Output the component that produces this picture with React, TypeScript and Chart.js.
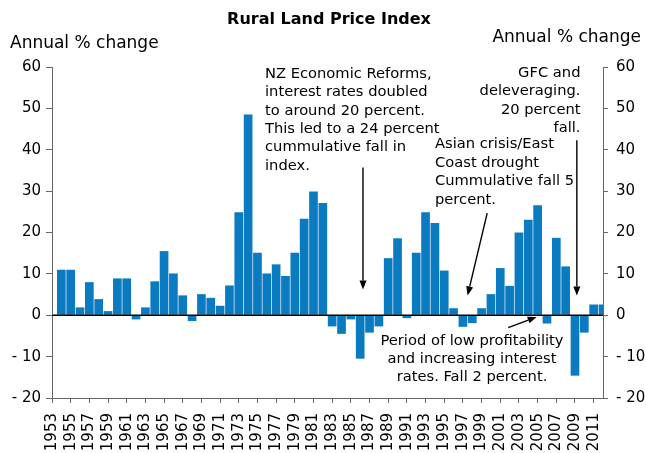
import React, { useEffect, useRef } from 'react';
import { Chart, registerables } from 'chart.js';

Chart.register(...registerables);

const years = [
  '1953', '1954', '1955', '1956', '1957', '1958', '1959', '1960', '1961', '1962',
  '1963', '1964', '1965', '1966', '1967', '1968', '1969', '1970', '1971', '1972',
  '1973', '1974', '1975', '1976', '1977', '1978', '1979', '1980', '1981', '1982',
  '1983', '1984', '1985', '1986', '1987', '1988', '1989', '1990', '1991', '1992',
  '1993', '1994', '1995', '1996', '1997', '1998', '1999', '2000', '2001', '2002',
  '2003', '2004', '2005', '2006', '2007', '2008', '2009', '2010', '2011', '2012',
];

const annualChange: (number | null)[] = [
  null, 11.0, 11.0, 1.9, 8.0, 3.9, 1.0, 8.9, 8.9, -1.0,
  1.9, 8.2, 15.5, 10.1, 4.8, -1.4, 5.1, 4.2, 2.3, 7.2,
  24.9, 48.5, 15.1, 10.1, 12.3, 9.5, 15.1, 23.3, 29.9, 27.1,
  -2.7, -4.5, -1.0, -10.5, -4.2, -2.7, 13.8, 18.6, -0.7, 15.1,
  24.9, 22.3, 10.8, 1.7, -2.8, -1.9, 1.7, 5.1, 11.4, 7.1,
  20.0, 23.1, 26.6, -2.0, 18.7, 11.8, -14.6, -4.2, 2.6, 2.6,
];

const yMin = -20;
const yMax = 60;
const yStep = 10;

const titleText = 'Rural Land Price Index';
const axisTitle = 'Annual % change';

const noteReforms = [
  'NZ Economic Reforms,',
  'interest rates doubled',
  'to around 20 percent.',
  'This led to a 24 percent',
  'cummulative fall in',
  'index.',
];
const noteGfc = ['GFC and', 'deleveraging.', '20 percent', 'fall.'];
const noteAsian = ['Asian crisis/East', 'Coast drought', 'Cummulative fall 5', 'percent.'];
const notePeriod = ['Period of low profitability', 'and increasing interest', 'rates. Fall 2 percent.'];

// arrows in data coordinates: [year, value]
const arrowReforms = { from: [1986.3, 35.7], to: [1986.3, 6.2] };
const arrowGfc = { from: [2009.2, 42.3], to: [2009.2, 4.8] };
const arrowAsian = { from: [1999.6, 24.7], to: [1997.5, 4.8] };
const arrowPeriod = { from: [2001.85, -3.0], to: [2004.9, -0.4] };

const FONT = '"DejaVu Sans", Verdana, sans-serif';
const BAR = '#0A7BC1';
const AXIS = '#666666';

function drawArrow(ctx: CanvasRenderingContext2D, x1: number, y1: number, x2: number, y2: number) {
  const ang = Math.atan2(y2 - y1, x2 - x1);
  const head = 9;
  const half = 3.5;
  const bx = x2 - head * Math.cos(ang);
  const by = y2 - head * Math.sin(ang);
  ctx.save();
  ctx.strokeStyle = '#000';
  ctx.fillStyle = '#000';
  ctx.lineWidth = 1.4;
  ctx.beginPath();
  ctx.moveTo(x1, y1);
  ctx.lineTo(bx, by);
  ctx.stroke();
  ctx.beginPath();
  ctx.moveTo(x2, y2);
  ctx.lineTo(bx + half * Math.sin(ang), by - half * Math.cos(ang));
  ctx.lineTo(bx - half * Math.sin(ang), by + half * Math.cos(ang));
  ctx.closePath();
  ctx.fill();
  ctx.restore();
}

function drawLines(ctx: CanvasRenderingContext2D, lines: string[], x: number, y: number, align: CanvasTextAlign, lh: number) {
  ctx.textAlign = align;
  lines.forEach((l, i) => ctx.fillText(l, x, y + i * lh));
}

const overlayPlugin = {
  id: 'overlay',
  afterDatasetsDraw(chart: any) {
    const ctx: CanvasRenderingContext2D = chart.ctx;
    const ys = chart.scales.y;
    const area = chart.chartArea;
    const y0 = ys.getPixelForValue(0);
    ctx.save();
    ctx.strokeStyle = '#000';
    ctx.lineWidth = 1.5;
    ctx.beginPath();
    ctx.moveTo(area.left, y0);
    ctx.lineTo(area.right, y0);
    ctx.stroke();
    ctx.restore();
  },
  afterDraw(chart: any) {
    const ctx: CanvasRenderingContext2D = chart.ctx;
    const xs = chart.scales.x;
    const ys = chart.scales.y;
    const px = (yr: number) => xs.getPixelForValue(yr - Number(years[0]));
    const py = (v: number) => ys.getPixelForValue(v);

    ctx.save();
    ctx.fillStyle = '#000';
    ctx.textBaseline = 'middle';

    ctx.font = `bold 16px ${FONT}`;
    ctx.textAlign = 'center';
    ctx.fillText(titleText, 329, 20);

    ctx.font = `17px ${FONT}`;
    ctx.textAlign = 'left';
    ctx.fillText(axisTitle, 10, 44);
    ctx.textAlign = 'right';
    ctx.fillText(axisTitle, 641, 38);

    ctx.font = `14.7px ${FONT}`;
    drawLines(ctx, noteReforms, 265, 74, 'left', 18.4);
    drawLines(ctx, noteGfc, 580.5, 73, 'right', 18.5);
    drawLines(ctx, noteAsian, 435, 144.5, 'left', 18.4);
    drawLines(ctx, notePeriod, 472, 341, 'center', 18.3);
    ctx.restore();

    [arrowReforms, arrowGfc, arrowAsian, arrowPeriod].forEach((a) => {
      drawArrow(ctx, px(a.from[0]), py(a.from[1]), px(a.to[0]), py(a.to[1]));
    });
  },
};

const tickFont = { family: FONT, size: 15 };
const yLabel = (v: number | string) => {
  const n = Number(v);
  return n < 0 ? '- ' + Math.abs(n) : String(n);
};

export default function App() {
  const ref = useRef<HTMLCanvasElement | null>(null);

  useEffect(() => {
    document.body.style.margin = '0';
    const canvas = ref.current;
    if (!canvas) return;
    const chart = new Chart(canvas, {
      type: 'bar',
      data: {
        labels: years,
        datasets: [
          {
            data: annualChange,
            backgroundColor: BAR,
            borderWidth: 0,
            categoryPercentage: 1,
            barPercentage: 0.93,
            clip: 0,
          } as any,
        ],
      },
      options: {
        animation: false,
        responsive: false,
        devicePixelRatio: 1,
        layout: { padding: { top: 67, left: 0, right: 0, bottom: 0 } },
        plugins: {
          legend: { display: false },
          title: { display: false },
          tooltip: { enabled: false },
        },
        scales: {
          x: {
            type: 'category',
            offset: false,
            border: { color: AXIS, width: 1 },
            grid: {
              offset: false,
              drawOnChartArea: false,
              drawTicks: true,
              tickLength: 5,
              tickColor: (c: any) => (c.index % 2 === 0 ? AXIS : 'rgba(0,0,0,0)'),
            },
            ticks: {
              autoSkip: false,
              maxRotation: 90,
              minRotation: 90,
              padding: 10,
              color: '#000',
              font: tickFont,
              callback: (_v: any, i: number) => (i % 2 === 0 ? years[i] : ''),
            },
            afterFit: (s: any) => {
              s.height = 55;
            },
          },
          y: {
            position: 'left',
            min: yMin,
            max: yMax,
            border: { color: AXIS, width: 1 },
            grid: { drawOnChartArea: false, drawTicks: true, tickLength: 6, tickColor: AXIS },
            ticks: { stepSize: yStep, color: '#000', font: tickFont, padding: 5, callback: yLabel },
            afterFit: (s: any) => {
              s.width = 52;
            },
          },
          y2: {
            position: 'right',
            min: yMin,
            max: yMax,
            border: { color: AXIS, width: 1 },
            grid: { drawOnChartArea: false, drawTicks: true, tickLength: 5, tickColor: AXIS },
            ticks: { stepSize: yStep, color: '#000', font: tickFont, padding: 8, callback: yLabel },
            afterFit: (s: any) => {
              s.width = 43;
            },
          },
        },
      } as any,
      plugins: [overlayPlugin],
    });
    return () => chart.destroy();
  }, []);

  return (
    <div style={{ position: 'absolute', left: 0, top: 0, width: 646, height: 453 }}>
      <canvas ref={ref} width={646} height={453} style={{ width: 646, height: 453, display: 'block' }} />
    </div>
  );
}
